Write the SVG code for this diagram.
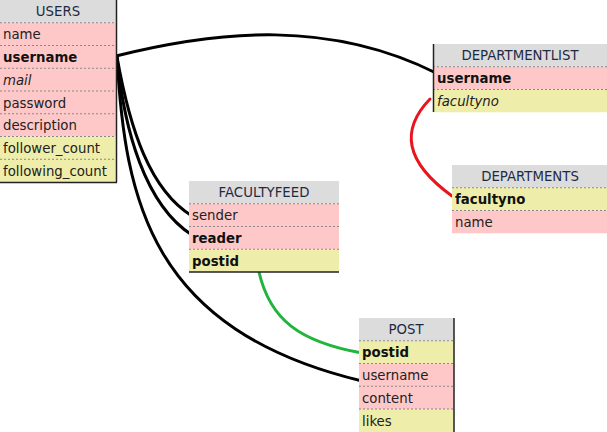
<svg xmlns="http://www.w3.org/2000/svg" width="607" height="432" viewBox="0 0 607 432">
<style>
.hd{fill:#dcdcdc}
.pk{fill:#ffc8c8}
.yl{fill:#eeeeaa}
.sep{stroke:#888;stroke-width:1;stroke-dasharray:2,2}
.bd{stroke:#222;stroke-width:1.5}
text{font-family:"DejaVu Sans",Verdana,sans-serif;font-size:13.3px;fill:#222}
.ht{fill:#1e2a44;text-anchor:middle}
.b{font-weight:bold;fill:#111}
.i{font-style:italic}
.c{fill:none;stroke-width:3;stroke-linecap:round}
</style>
<rect width="607" height="432" fill="#fff"/>
<g id="connectors">
<path class="c" stroke="#000" d="M116,56 C220,30 330,20 436,73"/>
<path class="c" stroke="#000" d="M117,57 C130,130 150,190 192,216"/>
<path class="c" stroke="#000" d="M117,57 C124,130 145,205 192,235"/>
<path class="c" stroke="#000" d="M117,57 C125,200 150,330 362,381"/>
<path class="c" stroke="#22b43c" stroke-width="2.5" d="M259,272 C270,320 300,342 362,353"/>
<path class="c" stroke="#e8141e" stroke-width="2.5" d="M430,99 C400,130 405,162 452,196"/>
</g>
<g id="users">
<rect class="hd" x="0" y="0" width="116" height="22.75"/>
<rect class="pk" x="0" y="22.75" width="116" height="113.75"/>
<rect class="yl" x="0" y="136.5" width="116" height="45.5"/>
<line class="sep" x1="0" y1="22.75" x2="116" y2="22.75"/>
<line class="sep" x1="0" y1="45.5" x2="116" y2="45.5"/>
<line class="sep" x1="0" y1="68.25" x2="116" y2="68.25"/>
<line class="sep" x1="0" y1="91" x2="116" y2="91"/>
<line class="sep" x1="0" y1="113.75" x2="116" y2="113.75"/>
<line class="sep" x1="0" y1="136.5" x2="116" y2="136.5"/>
<line class="sep" x1="0" y1="159.25" x2="116" y2="159.25"/>
<line class="bd" x1="116.5" y1="0" x2="116.5" y2="182.5"/>
<line class="bd" x1="0" y1="182.5" x2="117" y2="182.5"/>
<text class="ht" x="58" y="16">USERS</text>
<text x="3" y="39">name</text>
<text class="b" x="3" y="62">username</text>
<text class="i" x="3" y="84.5">mail</text>
<text x="3" y="107.5">password</text>
<text x="3" y="130">description</text>
<text x="3" y="153">follower_count</text>
<text x="3" y="176">following_count</text>
</g>
<g id="facultyfeed">
<rect class="hd" x="189" y="181" width="150" height="22.75"/>
<rect class="pk" x="189" y="203.75" width="150" height="45.5"/>
<rect class="yl" x="189" y="249.25" width="150" height="22.75"/>
<line class="sep" x1="189" y1="203.75" x2="339" y2="203.75"/>
<line class="sep" x1="189" y1="226.5" x2="339" y2="226.5"/>
<line class="sep" x1="189" y1="249.25" x2="339" y2="249.25"/>
<line class="bd" x1="189" y1="272" x2="339" y2="272"/>
<text class="ht" x="264" y="197">FACULTYFEED</text>
<text x="192" y="220">sender</text>
<text class="b" x="192" y="243">reader</text>
<text class="b" x="192" y="265.5">postid</text>
</g>
<g id="departmentlist">
<rect class="hd" x="433" y="44" width="174" height="22.75"/>
<rect class="pk" x="433" y="66.75" width="174" height="22.75"/>
<rect class="yl" x="433" y="89.5" width="174" height="22.75"/>
<line class="sep" x1="433" y1="66.75" x2="607" y2="66.75"/>
<line class="sep" x1="433" y1="89.5" x2="607" y2="89.5"/>
<line class="bd" x1="433.5" y1="44" x2="433.5" y2="112"/>
<text class="ht" x="520" y="60">DEPARTMENTLIST</text>
<text class="b" x="437" y="83">username</text>
<text class="i" x="437" y="105.5">facultyno</text>
</g>
<g id="departments">
<rect class="hd" x="452" y="165" width="155" height="22.75"/>
<rect class="yl" x="452" y="187.75" width="155" height="22.75"/>
<rect class="pk" x="452" y="210.5" width="155" height="22.75"/>
<line class="sep" x1="452" y1="187.75" x2="607" y2="187.75"/>
<line class="sep" x1="452" y1="210.5" x2="607" y2="210.5"/>
<text class="ht" x="530" y="181">DEPARTMENTS</text>
<text class="b" x="455" y="204">facultyno</text>
<text x="455" y="227">name</text>
</g>
<g id="post">
<rect class="hd" x="359" y="318" width="95" height="22.75"/>
<rect class="yl" x="359" y="340.75" width="95" height="22.75"/>
<rect class="pk" x="359" y="363.5" width="95" height="45.5"/>
<rect class="yl" x="359" y="409" width="95" height="23"/>
<line class="sep" x1="359" y1="340.75" x2="454" y2="340.75"/>
<line class="sep" x1="359" y1="363.5" x2="454" y2="363.5"/>
<line class="sep" x1="359" y1="386.25" x2="454" y2="386.25"/>
<line class="sep" x1="359" y1="409" x2="454" y2="409"/>
<line class="bd" x1="454" y1="318" x2="454" y2="432"/>
<text class="ht" x="406" y="334">POST</text>
<text class="b" x="362" y="357">postid</text>
<text x="362" y="380">username</text>
<text x="362" y="402.5">content</text>
<text x="362" y="425.5">likes</text>
</g>
</svg>
